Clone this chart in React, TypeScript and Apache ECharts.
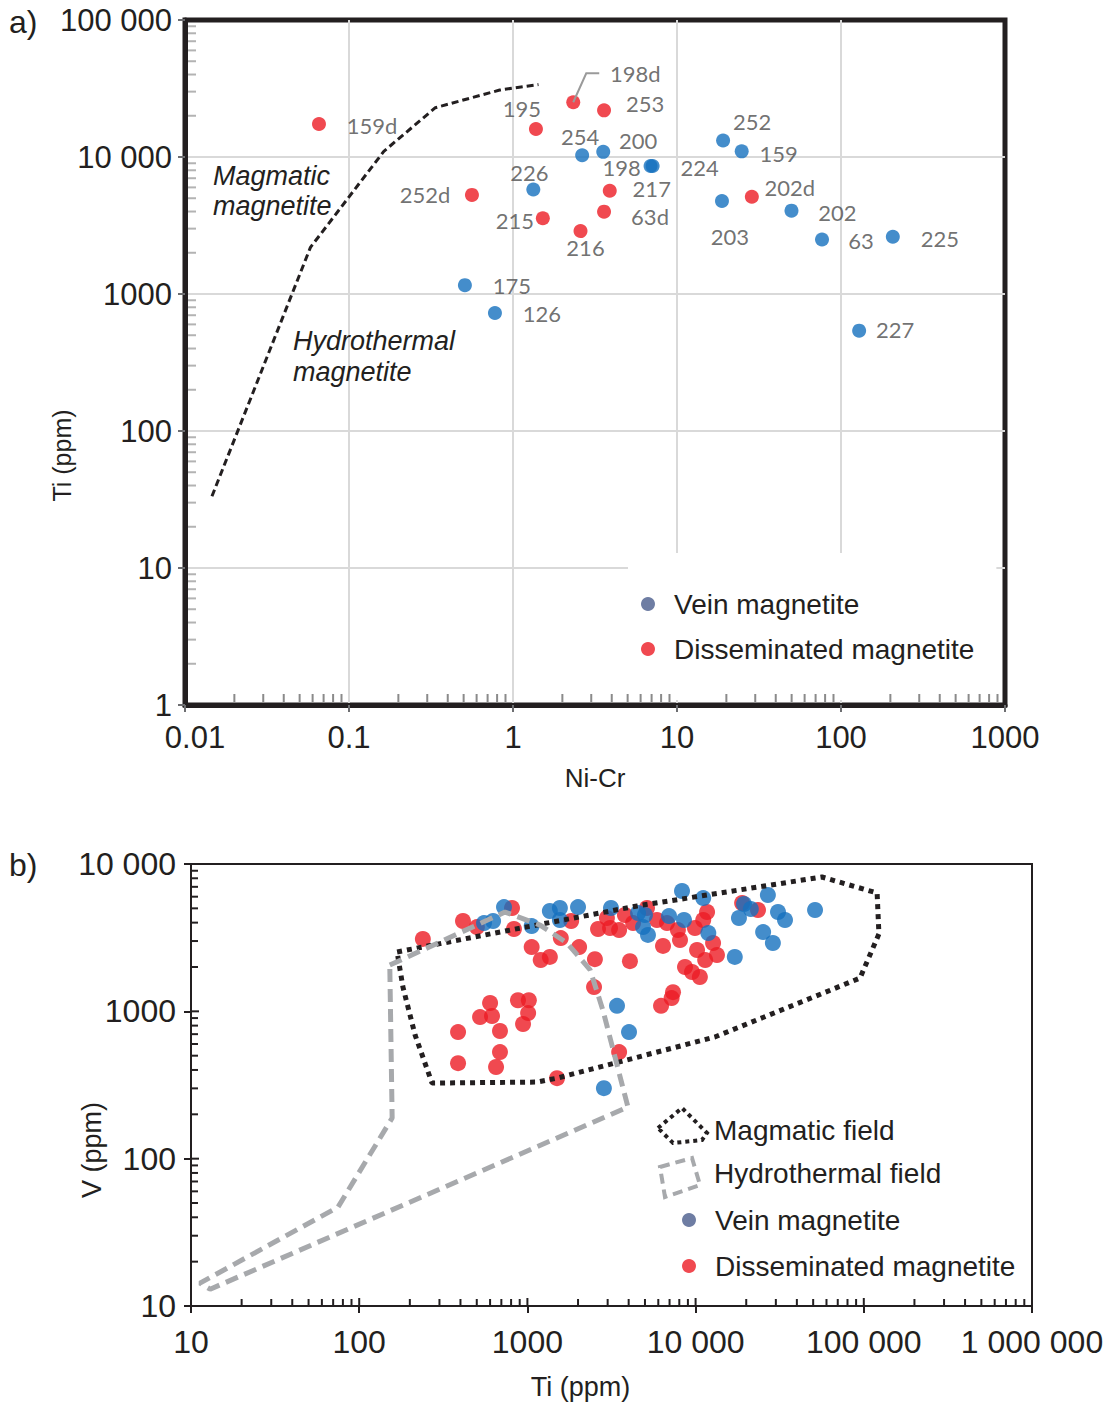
import React, { useEffect, useRef } from "react";
import * as echarts from "echarts";

// ---------- Panel a: Ti vs Ni-Cr ----------
const veinANames = ["252", "159", "254", "200", "198", "224", "226", "203", "202", "63", "225", "175", "126", "227"];
const veinANiCr = [19.1, 24.8, 2.64, 3.55, 6.9, 7.1, 1.33, 18.8, 49.9, 76.6, 207, 0.509, 0.776, 129];
const veinATi = [13200, 11000, 10300, 10900, 8600, 8600, 5790, 4770, 4060, 2500, 2620, 1160, 726, 540];

const dissANames = ["159d", "198d", "253", "195", "252d", "217", "215", "63d", "216", "202d"];
const dissANiCr = [0.0656, 2.33, 3.59, 1.38, 0.562, 3.89, 1.52, 3.59, 2.58, 28.6];
const dissATi = [17400, 25100, 21900, 16000, 5290, 5670, 3570, 3990, 2880, 5130];

const boundaryNiCr = [0.0146, 0.0582, 0.163, 0.336, 0.83, 1.43];
const boundaryTi = [33.4, 2190, 11000, 22900, 30800, 33800];

const aXTicks = ["0.01", "0.1", "1", "10", "100", "1000"];
const aYTicks = ["1", "10", "100", "1000", "10 000", "100 000"];

// ---------- Panel b: V vs Ti ----------
const dissBTi = [239, 414, 501, 810, 832, 1060, 1200, 1360, 1580, 1820, 2030, 2520, 2490, 4070, 2630, 3100, 3510, 2970, 3800, 4250, 5140, 5890, 6400, 6760, 7850, 8080, 9910, 11100, 11700, 10200, 11400, 12700, 13400, 8650, 9520, 10600, 7340, 7200, 6230, 23500, 18900, 600, 523, 616, 387, 687, 687, 387, 651, 879, 1020, 1010, 942, 3510, 1500];
const dissBV = [3100, 4100, 3730, 5030, 3620, 2730, 2230, 2340, 3140, 4100, 2730, 2260, 1460, 2190, 3620, 3680, 3560, 4300, 4510, 3970, 5030, 4170, 2780, 3970, 3560, 3050, 3680, 4170, 4720, 2610, 2230, 2910, 2410, 2000, 1850, 1710, 1350, 1230, 1090, 4870, 5440, 1140, 914, 929, 723, 735, 529, 445, 419, 1190, 1190, 973, 820, 529, 352];

const veinBTi = [726, 552, 625, 1060, 1360, 1560, 1560, 2000, 3140, 4550, 5000, 4870, 5210, 6950, 8300, 8530, 11100, 11900, 18100, 19400, 21300, 26900, 25200, 28800, 30900, 34000, 17100, 51300, 3410, 4020, 2850];
const veinBV = [5100, 3970, 4100, 3790, 4800, 5030, 4170, 5100, 5030, 4650, 4510, 3730, 3300, 4430, 6560, 4170, 5870, 3400, 4300, 5350, 4950, 6160, 3450, 2910, 4720, 4170, 2340, 4870, 1090, 723, 301];

const magmaticTi = [168, 788, 4490, 56400, 120000, 123000, 94900, 13000, 1500, 1140, 271, 215, 182, 168];
const magmaticV = [2530, 3560, 5190, 8160, 6350, 3350, 1680, 669, 352, 331, 326, 690, 1460, 2530];

const hydroTi = [152, 736, 1190, 1720, 2360, 2810, 3960, 13.0, 11.3, 74.8, 157, 152];
const hydroV = [2060, 4720, 3850, 2910, 1910, 1020, 224, 13.0, 14.3, 46.9, 189, 2060];

const bXTicks = ["10", "100", "1000", "10 000", "100 000", "1 000 000"];
const bYTicks = ["10", "100", "1000", "10 000"];

// label placement (pixel offsets of label centre from point centre)
const labelOffsetA: Record<string, [number, number]> = {
  "252": [29, -19], "159": [37, 2], "254": [-2, -19], "200": [35, -11], "198": [-29, 2], "224": [47, 2],
  "226": [-4, -17], "203": [8, 35], "202": [46, 2], "63": [39, 1], "225": [47, 2], "175": [47, 0],
  "126": [47, 0], "227": [36, -1], "159d": [53, 1], "198d": [62, -29], "253": [41, -7], "195": [-14, -21],
  "252d": [-47, 0], "217": [42, -2], "215": [-28, 2], "63d": [46, 5], "216": [5, 16], "202d": [38, -9],
};

const FONT = "'Liberation Sans', Arial, Helvetica, sans-serif";
const LABEL_FONT = "Lato, 'Open Sans', sans-serif";
const BLUE = "#1570be";
const RED = "#ec1c24";
const LEGEND_BLUE = "#4a5d8c";
const INK = "#231f20";

const zip = (a: number[], b: number[]) => a.map((v, i) => [v, b[i]]);
const expIdx = (v: number, base: number) => Math.round(Math.log10(v)) - base;

export default function App() {
  const ref = useRef<HTMLDivElement>(null);

  useEffect(() => {
    document.body.style.margin = "0";
    if (!ref.current) return;
    const chart = echarts.init(ref.current, null, { renderer: "svg" });

    const pointLabel = {
      show: true,
      position: "inside",
      formatter: "{b}",
      color: "#4d4d4d",
      fontSize: 22,
      fontFamily: LABEL_FONT,
    };

    const option: any = {
      animation: false,
      backgroundColor: "#ffffff",
      textStyle: { fontFamily: FONT },
      grid: [
        { left: 185, top: 20, width: 820, height: 685, show: true, borderColor: INK, borderWidth: 5, backgroundColor: "transparent", outerBoundsMode: "none" },
        { left: 191, top: 864, width: 841, height: 442, show: true, borderColor: INK, borderWidth: 2, backgroundColor: "transparent", outerBoundsMode: "none" },
      ],
      xAxis: [
        {
          gridIndex: 0, type: "log", logBase: 10, min: 0.01, max: 1000,
          name: "Ni-Cr", nameLocation: "middle", nameGap: 60,
          nameTextStyle: { fontSize: 26, color: INK, fontFamily: FONT },
          axisLine: { show: true, onZero: false, lineStyle: { color: INK, width: 5 } },
          axisTick: { show: true, length: 7, lineStyle: { color: "#6d6e71", width: 2 } },
          axisLabel: {
            fontSize: 31, color: INK, margin: 17, fontFamily: FONT,
            formatter: (v: number) => {
              const i = expIdx(v, -2);
              return i === 0 ? "{first|" + aXTicks[i] + "}" : aXTicks[i];
            },
            rich: { first: { fontSize: 31, color: INK, fontFamily: FONT, padding: [0, 0, 0, 20] } },
          },
          splitLine: { show: true, showMinLine: false, showMaxLine: false, lineStyle: { color: "#d9d9d9", width: 2 } },
          minorTick: { show: false },
        },
        {
          gridIndex: 1, type: "log", logBase: 10, min: 10, max: 1000000,
          name: "Ti (ppm)", nameLocation: "middle", nameGap: 67,
          nameTextStyle: { fontSize: 27, color: INK, fontFamily: FONT, padding: [0, 62, 0, 0] },
          axisLine: { show: true, onZero: false, lineStyle: { color: INK, width: 2 } },
          axisTick: { show: true, length: 7, lineStyle: { color: INK, width: 2 } },
          axisLabel: { fontSize: 32, color: INK, margin: 20, fontFamily: FONT, formatter: (v: number) => bXTicks[expIdx(v, 1)] },
          splitLine: { show: false },
          minorTick: { show: false },
        },
      ],
      yAxis: [
        {
          gridIndex: 0, type: "log", logBase: 10, min: 1, max: 100000,
          axisLine: { show: true, onZero: false, lineStyle: { color: INK, width: 5 } },
          axisTick: { show: true, length: 7, lineStyle: { color: "#6d6e71", width: 2 } },
          axisLabel: { fontSize: 31, color: INK, margin: 13, fontFamily: FONT, formatter: (v: number) => aYTicks[expIdx(v, 0)] },
          splitLine: { show: true, showMinLine: false, showMaxLine: false, lineStyle: { color: "#d9d9d9", width: 2 } },
          minorTick: { show: false },
        },
        {
          gridIndex: 1, type: "log", logBase: 10, min: 10, max: 10000,
          axisLine: { show: true, onZero: false, lineStyle: { color: INK, width: 2 } },
          axisTick: { show: true, length: 7, lineStyle: { color: INK, width: 2 } },
          axisLabel: { fontSize: 32, color: INK, margin: 15, fontFamily: FONT, formatter: (v: number) => bYTicks[expIdx(v, 1)] },
          splitLine: { show: false },
          minorTick: { show: false },
        },
      ],
      legend: [
        {
          data: [
            { name: "Vein magnetite", itemStyle: { color: LEGEND_BLUE } },
            { name: "Disseminated magnetite", itemStyle: { color: RED } },
          ],
          orient: "vertical", left: 628, top: 553, padding: [36, 22, 36, 13], itemGap: 15,
          itemWidth: 42, itemHeight: 14, icon: "circle", backgroundColor: "#ffffff",
          textStyle: { fontSize: 28, color: INK, fontFamily: FONT, lineHeight: 30 },
          selectedMode: false,
        },
        {
          data: [
            { name: "Vein magnetite", itemStyle: { color: LEGEND_BLUE } },
            { name: "Disseminated magnetite", itemStyle: { color: RED } },
          ],
          orient: "vertical", left: 682, top: 1205, padding: 0, itemGap: 16,
          itemWidth: 42, itemHeight: 14, icon: "circle",
          textStyle: { fontSize: 28, color: INK, fontFamily: FONT, lineHeight: 30 },
          selectedMode: false,
        },
      ],
      series: [
        {
          type: "line", name: "boundary", xAxisIndex: 0, yAxisIndex: 0,
          data: zip(boundaryNiCr, boundaryTi), symbol: "none", silent: true,
          lineStyle: { color: INK, width: 3, type: [7, 4] }, z: 2,
        },
        {
          type: "scatter", name: "Vein magnetite", xAxisIndex: 0, yAxisIndex: 0, symbolSize: 14,
          itemStyle: { color: BLUE }, label: pointLabel, z: 3,
          data: veinANames.map((n, i) => ({ name: n, value: [veinANiCr[i], veinATi[i]], label: { offset: labelOffsetA[n] } })),
        },
        {
          type: "scatter", name: "Disseminated magnetite", xAxisIndex: 0, yAxisIndex: 0, symbolSize: 14,
          itemStyle: { color: RED }, label: pointLabel, z: 3,
          data: dissANames.map((n, i) => ({ name: n, value: [dissANiCr[i], dissATi[i]], label: { offset: labelOffsetA[n] } })),
        },
        {
          type: "scatter", name: "Disseminated magnetite", xAxisIndex: 1, yAxisIndex: 1, symbolSize: 16,
          itemStyle: { color: RED }, data: zip(dissBTi, dissBV), z: 3,
        },
        {
          type: "scatter", name: "Vein magnetite", xAxisIndex: 1, yAxisIndex: 1, symbolSize: 16,
          itemStyle: { color: BLUE }, data: zip(veinBTi, veinBV), z: 3,
        },
        {
          type: "line", name: "Magmatic field", xAxisIndex: 1, yAxisIndex: 1, symbol: "none", silent: true,
          data: zip(magmaticTi, magmaticV), lineStyle: { color: INK, width: 5, type: [5, 5], cap: "butt" }, z: 4,
        },
        {
          type: "line", name: "Hydrothermal field", xAxisIndex: 1, yAxisIndex: 1, symbol: "none", silent: true,
          data: zip(hydroTi, hydroV), lineStyle: { color: "#a7a9ac", width: 5, type: [13, 7], cap: "butt" }, z: 4,
        },
      ],
    };

    chart.setOption(option);

    // ---- extra graphics: minor ticks, annotations ----
    const px = (axis: "x" | "y", idx: number, v: number): number =>
      chart.convertToPixel(axis === "x" ? { xAxisIndex: idx } : { yAxisIndex: idx }, v) as any;
    const minors = (e0: number, e1: number) => {
      const out: number[] = [];
      for (let e = e0; e < e1; e++) for (let m = 2; m <= 9; m++) out.push(m * Math.pow(10, e));
      return out;
    };
    const g: any[] = [];
    const tick = (x1: number, y1: number, x2: number, y2: number, color: string, w: number) =>
      g.push({ type: "line", silent: true, z: 5, shape: { x1, y1, x2, y2 }, style: { stroke: color, lineWidth: w } });

    // panel a
    const ax0 = px("x", 0, 0.01);
    const ay0 = px("y", 0, 1);
    minors(0, 5).forEach((v) => { const y = px("y", 0, v); tick(ax0 + 3, y, ax0 + 11, y, "#b3b3b3", 2); });
    minors(-2, 3).forEach((v) => { const x = px("x", 0, v); tick(x, ay0 - 3, x, ay0 - 11, "#8a8a8a", 2); });

    // panel b
    const bx0 = px("x", 1, 10);
    const by0 = px("y", 1, 10);
    minors(1, 4).forEach((v) => { const y = px("y", 1, v); tick(bx0, y, bx0 + 7, y, INK, 2); });
    [100, 1000].forEach((v) => { const y = px("y", 1, v); tick(bx0, y, bx0 + 8, y, INK, 2); });
    minors(1, 6).forEach((v) => { const x = px("x", 1, v); tick(x, by0, x, by0 - 7, INK, 2); });
    [100, 1000, 10000, 100000].forEach((v) => { const x = px("x", 1, v); tick(x, by0, x, by0 - 8, INK, 2); });

    // leader line for 198d
    const i198d = dissANames.indexOf("198d");
    const p = chart.convertToPixel({ seriesIndex: 2 }, [dissANiCr[i198d], dissATi[i198d]]) as any;
    g.push({
      type: "polyline", silent: true, z: 5,
      shape: { points: [[p[0], p[1]], [p[0] + 13, p[1] - 29], [p[0] + 26, p[1] - 29]] },
      style: { stroke: "#9a9a9a", lineWidth: 2, fill: "none" },
    });

    // rotated y-axis titles
    const yTitleA = (px("y", 0, 1) + px("y", 0, 100000)) / 2 + 93;
    const yTitleB = (px("y", 1, 10) + px("y", 1, 10000)) / 2 + 65;
    g.push({ type: "text", x: 62, y: yTitleA, rotation: Math.PI / 2, z: 5, style: { text: "Ti (ppm)", fontSize: 25, fill: INK, fontFamily: FONT, align: "center", verticalAlign: "middle" } });
    g.push({ type: "text", x: 92, y: yTitleB, rotation: Math.PI / 2, z: 5, style: { text: "V (ppm)", fontSize: 27, fill: INK, fontFamily: FONT, align: "center", verticalAlign: "middle" } });

    // panel letters and field annotations
    g.push({ type: "text", x: 9, y: 22, z: 5, style: { text: "a)", fontSize: 32, fill: INK, fontFamily: FONT, verticalAlign: "middle" } });
    g.push({ type: "text", x: 9, y: 865, z: 5, style: { text: "b)", fontSize: 32, fill: INK, fontFamily: FONT, verticalAlign: "middle" } });
    g.push({ type: "text", x: 213, y: 161, z: 5, style: { text: "Magmatic\nmagnetite", fontSize: 27, fontStyle: "italic", lineHeight: 30, fill: INK, fontFamily: FONT, verticalAlign: "top" } });
    g.push({ type: "text", x: 293, y: 325, z: 5, style: { text: "Hydrothermal\nmagnetite", fontSize: 27, fontStyle: "italic", lineHeight: 31, fill: INK, fontFamily: FONT, verticalAlign: "top" } });

    // legend entries for the fields (panel b)
    g.push({ type: "polygon", silent: true, z: 5, shape: { points: [[658, 1128], [682, 1108], [707, 1133], [702, 1140], [673, 1143]] }, style: { fill: "none", stroke: INK, lineWidth: 4, lineDash: [4, 4] } });
    g.push({ type: "polygon", silent: true, z: 5, shape: { points: [[660, 1167], [692, 1158], [700, 1185], [665, 1197]] }, style: { fill: "none", stroke: "#a7a9ac", lineWidth: 4, lineDash: [10, 6] } });
    g.push({ type: "text", x: 714, y: 1130, z: 5, style: { text: "Magmatic field", fontSize: 28, fill: INK, fontFamily: FONT, verticalAlign: "middle" } });
    g.push({ type: "text", x: 714, y: 1173, z: 5, style: { text: "Hydrothermal field", fontSize: 28, fill: INK, fontFamily: FONT, verticalAlign: "middle" } });

    chart.setOption({ graphic: g });

    return () => chart.dispose();
  }, []);

  return <div ref={ref} style={{ width: 1112, height: 1406 }} />;
}
